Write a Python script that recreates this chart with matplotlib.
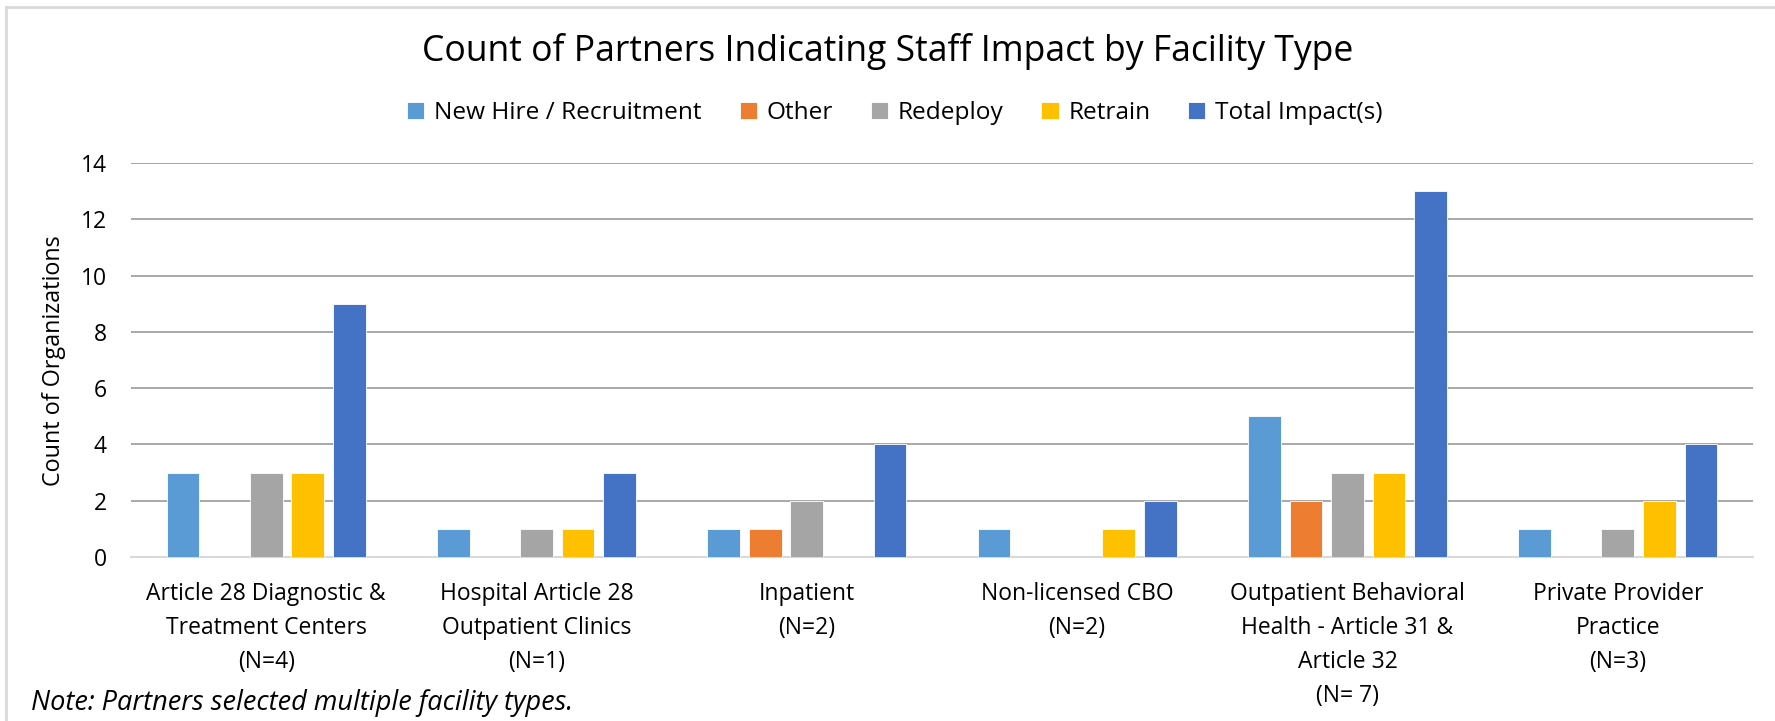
import numpy as np
import matplotlib
matplotlib.use('Agg')
import matplotlib.pyplot as plt
from matplotlib.lines import Line2D

plt.rcParams['font.family'] = ['Open Sans', 'DejaVu Sans']

categories = ['Article 28 Diagnostic &\nTreatment Centers\n(N=4)',
              'Hospital Article 28\nOutpatient Clinics\n(N=1)',
              'Inpatient\n(N=2)',
              'Non-licensed CBO\n(N=2)',
              'Outpatient Behavioral\nHealth - Article 31 &\nArticle 32\n(N= 7)',
              'Private Provider\nPractice\n(N=3)']
series = ['New Hire / Recruitment', 'Other', 'Redeploy', 'Retrain', 'Total Impact(s)']
new_hire = [3, 1, 1, 1, 5, 1]
other = [0, 0, 1, 0, 2, 0]
redeploy = [3, 1, 2, 0, 3, 1]
retrain = [3, 1, 0, 1, 3, 2]
total = [9, 3, 4, 2, 13, 4]
colors = ['#5B9BD5', '#ED7D31', '#A5A5A5', '#FFC000', '#4472C4']

fig = plt.figure(figsize=(17.75, 7.21), dpi=100)
ax = fig.add_axes([131 / 1775, 1 - 557 / 721, (1753 - 131) / 1775, (557 - 163) / 721])

x = np.arange(len(categories))
step = 0.1537
width = 0.121
for i, vals in enumerate([new_hire, other, redeploy, retrain, total]):
    ax.bar(x + (i - 2) * step, vals, width, color=colors[i], label=series[i],
           edgecolor='white', linewidth=0.6, zorder=3)

ax.set_xlim(-0.5, len(categories) - 0.5)
ax.set_ylim(0, 14)
ax.set_yticks(range(0, 15, 2))
ax.set_xticks(x)
ax.set_xticklabels(categories, fontsize=16.5, linespacing=1.55)
ax.tick_params(axis='y', length=0, pad=17.5, labelsize=16.5)
ax.tick_params(axis='x', length=0, pad=18)
ax.yaxis.grid(True, color='#999999', linewidth=1.2, zorder=0)
for s in ['top', 'right', 'left']:
    ax.spines[s].set_visible(False)
ax.spines['bottom'].set_color('#d9d9d9')
ax.spines['bottom'].set_linewidth(1.5)
ax.set_ylabel('Count of Organizations', fontsize=16.8)
ax.yaxis.set_label_coords(66 / 1775, 0.5, transform=fig.transFigure)

fig.text(0.5, 1 - 51 / 721, 'Count of Partners Indicating Staff Impact by Facility Type',
         ha='center', va='center', fontsize=25.6)
fig.legend(loc='center', bbox_to_anchor=(895 / 1775, 1 - 113 / 721), ncol=5,
           frameon=False, fontsize=17.6, handlelength=0.7, handleheight=0.7,
           handletextpad=0.4, columnspacing=1.55)
fig.text(31 / 1775, 1 - 703 / 721, 'Note: Partners selected multiple facility types.',
         ha='left', va='center', fontsize=19.5, style='italic')

# chart frame
fig.add_artist(Line2D([6 / 1775, 6 / 1775], [0, 1 - 7 / 721], transform=fig.transFigure,
                      color='#d9d9d9', linewidth=2))
fig.add_artist(Line2D([6 / 1775, 1], [1 - 7 / 721, 1 - 7 / 721], transform=fig.transFigure,
                      color='#d9d9d9', linewidth=2))

fig.savefig('out.png', dpi=100)
